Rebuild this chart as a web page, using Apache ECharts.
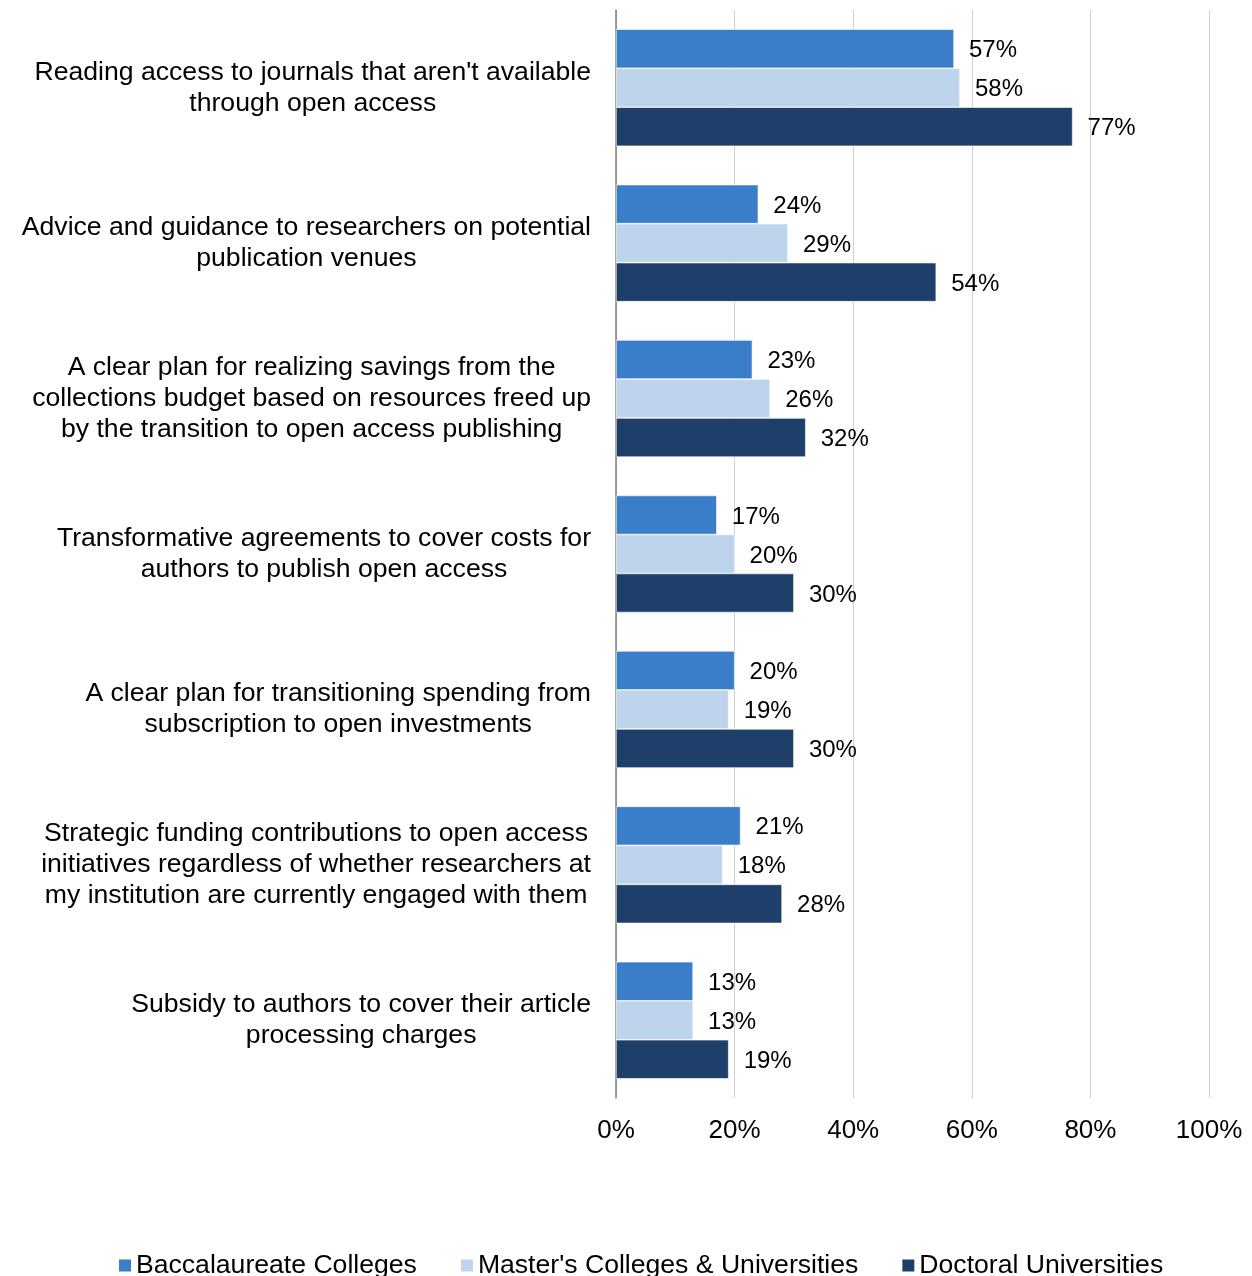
<!DOCTYPE html>
<html>
<head>
<meta charset="utf-8">
<script src="https://cdn.jsdelivr.net/npm/echarts@6/dist/echarts.min.js"></script>
<style>
  html, body { margin: 0; padding: 0; background: #ffffff; }
  #chart { width: 1252px; height: 1276px; }
</style>
</head>
<body>
<div id="chart"></div>
<script>
// Library support priorities, share of respondents by institution type
const categories = [
  "Reading access to journals that aren't available\nthrough open access",
  "Advice and guidance to researchers on potential\npublication venues",
  "A clear plan for realizing savings from the\ncollections budget based on resources freed up\nby the transition to open access publishing",
  "Transformative agreements to cover costs for\nauthors to publish open access",
  "A clear plan for transitioning spending from\nsubscription to open investments",
  "Strategic funding contributions to open access\ninitiatives regardless of whether researchers at\nmy institution are currently engaged with them",
  "Subsidy to authors to cover their article\nprocessing charges"
];

const seriesNames = [
  "Baccalaureate Colleges",
  "Master's Colleges & Universities",
  "Doctoral Universities"
];

const baccalaureate = [57, 24, 23, 17, 20, 21, 13];
const masters = [58, 29, 26, 20, 19, 18, 13];
const doctoral = [77, 54, 32, 30, 30, 28, 19];

const xTicks = { min: 0, max: 100, interval: 20 };

const colors = ['#3A7DC9', '#BED3EC', '#1F3F6B'];
const fontFamily = '"Liberation Sans", Arial, sans-serif';

function makeSeries(name, data, color) {
  return {
    name: name,
    type: 'bar',
    data: data,
    barWidth: 39,
    barGap: '0%',
    itemStyle: { color: color, borderColor: '#ffffff', borderWidth: 0.6 },
    label: {
      show: true,
      position: 'right',
      distance: 15,
      offset: [0, 2],
      formatter: p => p.value + '%',
      color: '#000000',
      fontSize: 24,
      fontFamily: fontFamily
    },
    emphasis: { disabled: true },
    animation: false
  };
}

const chart = echarts.init(document.getElementById('chart'), null, { renderer: 'canvas' });

chart.setOption({
  backgroundColor: '#ffffff',
  animation: false,
  color: colors,
  grid: { left: 616, right: 43, top: 10, bottom: 178, containLabel: false },
  legend: {
    data: seriesNames,
    top: 1252,
    left: 117,
    padding: 0,
    itemWidth: 14,
    itemHeight: 14,
    itemGap: 42,
    icon: 'rect',
    selectedMode: false,
    textStyle: { color: '#000000', fontSize: 26.6, fontFamily: fontFamily, padding: [0, 0, 0, -1] }
  },
  xAxis: {
    type: 'value',
    min: xTicks.min,
    max: xTicks.max,
    interval: xTicks.interval,
    axisLine: { show: false },
    axisTick: { show: false },
    splitLine: { show: true, lineStyle: { color: '#D0D0D0', width: 1 } },
    axisLabel: {
      formatter: v => v + '%',
      color: '#000000',
      fontSize: 26,
      fontFamily: fontFamily,
      margin: 20
    }
  },
  yAxis: {
    type: 'category',
    data: categories,
    inverse: true,
    axisLine: { show: true, lineStyle: { color: '#7F7F7F', width: 1.5 } },
    axisTick: { show: false },
    splitLine: { show: false },
    axisLabel: {
      margin: 25,
      align: 'right',
      formatter: v => v.split('\n').map(line => '{c|' + line + '}').join('\n'),
      rich: {
        c: {
          align: 'center',
          color: '#000000',
          fontSize: 26.6,
          lineHeight: 31,
          fontFamily: fontFamily
        }
      }
    }
  },
  series: [
    makeSeries(seriesNames[0], baccalaureate, colors[0]),
    makeSeries(seriesNames[1], masters, colors[1]),
    makeSeries(seriesNames[2], doctoral, colors[2])
  ]
});
</script>
</body>
</html>
